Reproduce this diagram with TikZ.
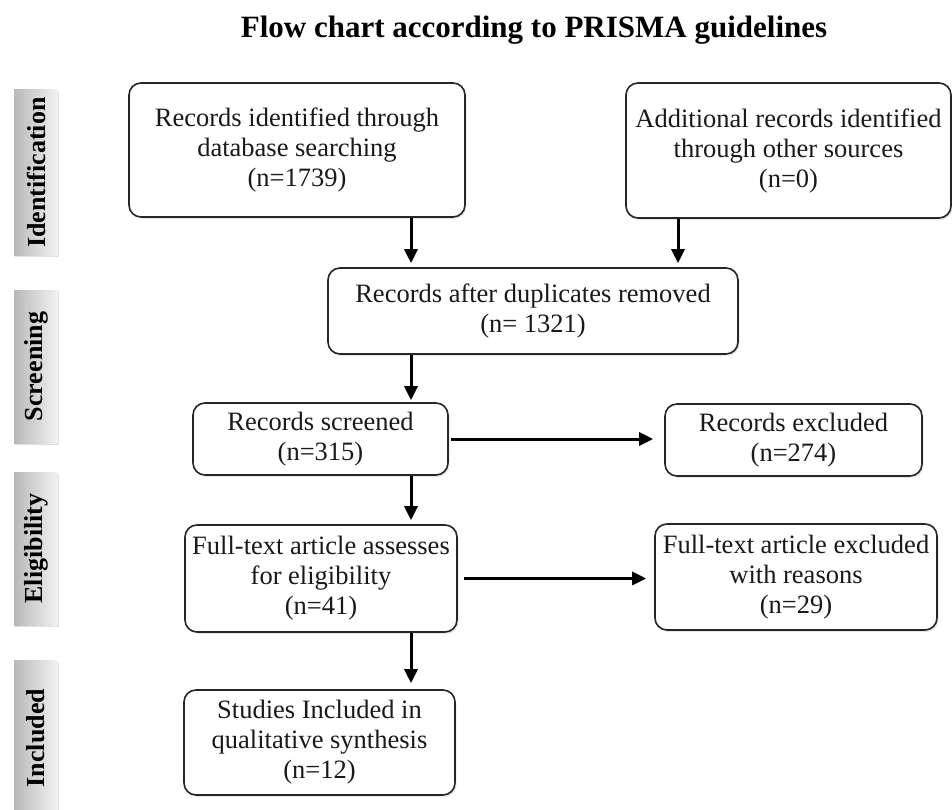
\documentclass[tikz,border=0pt]{standalone}
\usepackage{fontspec}
\setmainfont{Liberation Serif}
\usetikzlibrary{arrows.meta,shadows}

\begin{document}
\begin{tikzpicture}[x=1pt,y=-1pt,
  box/.style={draw=black!85, line width=1.6pt, rounded corners=12pt, fill=white,
    align=center, inner sep=0pt, text=black!90,
    font=\fontsize{26.5}{30}\selectfont,
    drop shadow={opacity=0.18, shadow xshift=1.5pt, shadow yshift=-2pt}},
  phase/.style={rotate=90, minimum height=44pt, inner sep=0pt,
    left color=gray!55, right color=gray!10, draw=none,
    font=\bfseries\fontsize{26}{28}\selectfont,
    drop shadow={opacity=0.25, shadow xshift=1pt, shadow yshift=-2pt}},
  arr/.style={line width=3pt, -{Triangle[length=14pt,width=13pt]}}]
\useasboundingbox (0,0) rectangle (952,810);

\node (title) at (534,30) {\bfseries\fontsize{31}{34}\selectfont Flow chart according to PRISMA guidelines};

% phases
\node[phase, minimum width=165pt] (pid) at (36,172.5) {Identification};
\node[phase, minimum width=153pt] (pscr) at (36,366.5) {Screening};
\node[phase, minimum width=153pt] (pel) at (36,548.5) {Eligibility};
\node[phase, minimum width=156pt] (pinc) at (36,738) {Included};

% boxes
\node[box, minimum width=336pt, minimum height=134pt] (ident) at (297,150) {Records identified through\\database searching\\(n=1739)};
\node[box, minimum width=325pt, minimum height=135pt] (other) at (788.5,150.5) {Additional records identified\\through other sources\\(n=0)};
\node[box, minimum width=410pt, minimum height=86pt] (dupl) at (533,311) {Records after duplicates removed\\(n= 1321)};
\node[box, minimum width=255pt, minimum height=72pt] (screen) at (320.5,439) {Records screened\\(n=315)};
\node[box, minimum width=257pt, minimum height=72pt] (excl) at (793.5,440) {Records excluded\\(n=274)};
\node[box, minimum width=272pt, minimum height=107pt] (full) at (321,578.5) {Full-text article assesses\\for eligibility\\(n=41)};
\node[box, minimum width=282pt, minimum height=106pt] (fexcl) at (796,577) {Full-text article excluded\\with reasons\\(n=29)};
\node[box, minimum width=271pt, minimum height=105pt] (incl) at (319.5,742.5) {Studies Included in\\qualitative synthesis\\(n=12)};

\coordinate (spine) at (411,0);
\coordinate (side) at (678,0);

\draw[arr, shorten >=4pt] (ident.south -| spine) -- (dupl.north -| spine);
\draw[arr, shorten >=4pt] (other.south -| side) -- (dupl.north -| side);
\draw[arr, shorten >=2pt] (dupl.south -| spine) -- (screen.north -| spine);
\draw[arr, shorten <=2pt, shorten >=11pt] (screen.east) -- (excl.west |- screen.east);
\draw[arr, shorten >=4pt] (screen.south -| spine) -- (full.north -| spine);
\draw[arr, shorten <=6pt, shorten >=8pt] (full.east) -- (fexcl.west |- full.east);
\draw[arr, shorten >=6pt] (full.south -| spine) -- (incl.north -| spine);
\end{tikzpicture}
\end{document}
